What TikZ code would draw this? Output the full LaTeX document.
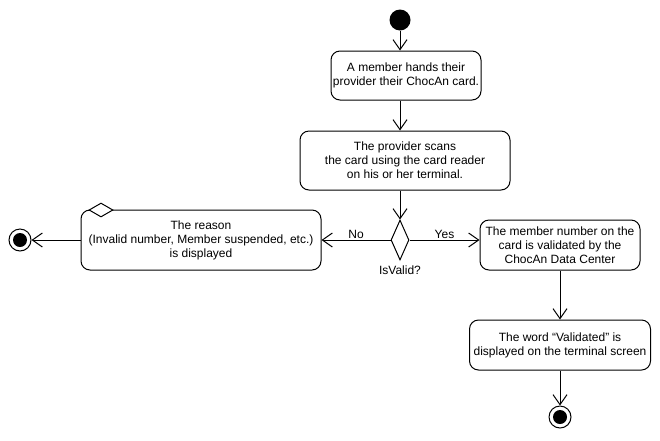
\documentclass[tikz,border=0pt]{standalone}
\usepackage{fontspec}
\setmainfont{Liberation Sans}
\usetikzlibrary{arrows.meta,shapes.geometric,positioning}

\tikzset{
  act/.style={draw, rounded corners=9pt, align=center, inner sep=0pt, font=\fontsize{12}{14}\selectfont},
  txt/.style={font=\fontsize{12}{14}\selectfont, inner sep=1pt},
  flow/.style={-{Straight Barb[length=10pt,width=14pt]}},
  final/.style={circle, draw, minimum size=22pt, inner sep=0pt},
}

\begin{document}
\begin{tikzpicture}[x=1pt,y=-1pt,line width=1pt]
\useasboundingbox (0,0) rectangle (660,440);

			\node [circle, fill, minimum size=21pt, inner sep=0pt] (start) at (400,20) {};
			\node [act, minimum width=150pt, minimum height=49pt] (hand) at (406,75.5) {A member hands their\\provider their ChocAn card.};
			\node [act, minimum width=210pt, minimum height=59pt] (scan) at (405,160.5) {The provider scans\\the card using the card reader\\on his or her terminal.};
			\node [diamond, draw, minimum width=18pt, minimum height=40pt, inner sep=0pt] (valid) at (400,240) {};
			\node [txt, below=4pt of valid.south] (isvalid) {IsValid?};

			\node [act, minimum width=240pt, minimum height=60pt] (reason) at (201,240) {The reason\\(Invalid number, Member suspended, etc.)\\is displayed};
			\node [diamond, draw, fill=white, minimum width=24pt, minimum height=14pt, inner sep=0pt] (tag) at (101,210) {};
			\node [final] (endL) at (20,240) {};
			\fill (endL) circle (7pt);

			\node [act, minimum width=160pt, minimum height=50pt] (check) at (560,245) {The member number on the\\card is validated by the\\ChocAn Data Center};
			\node [act, minimum width=181pt, minimum height=50pt] (word) at (560,345) {The word \textquotedblleft Validated\textquotedblright{} is\\displayed on the terminal screen};
			\node [final] (endR) at (560,417) {};
			\fill (endR) circle (7pt);

			\draw [flow] (start) -- (start |- hand.north);
			\draw [flow] (hand.south -| start) -- (start |- scan.north);
			\draw [flow] (scan.south -| valid) -- (valid.north);
			\draw [flow] (valid.west) -- node [txt, above] {No} (reason.east);
			\draw [flow] (valid.east) -- node [txt, above] {Yes} (check.west |- valid);
			\draw [flow] (check) -- (word);
			\draw [flow] (word) -- (endR);
			\draw [flow] (reason) -- (endL);
		\end{tikzpicture}
\end{document}
